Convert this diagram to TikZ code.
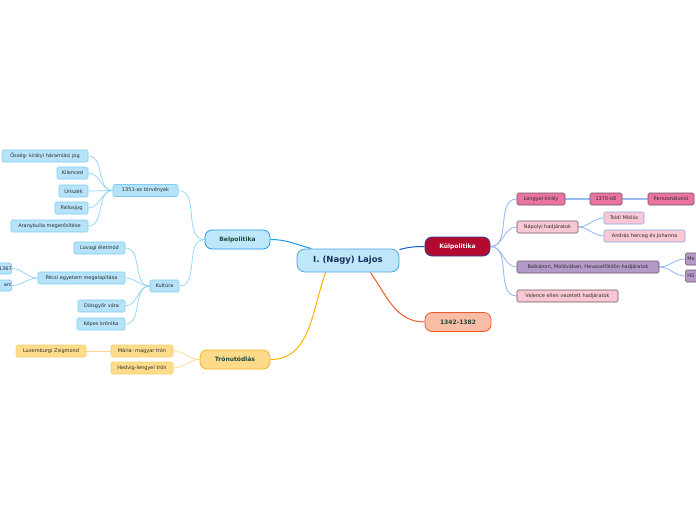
\documentclass[tikz,border=0pt]{standalone}
\usepackage{fontspec}
\setmainfont{DejaVu Sans}
\usetikzlibrary{backgrounds}
\definecolor{cfill}{HTML}{BEE7FA}
\definecolor{cdraw}{HTML}{4DA6DE}
\definecolor{ctext}{HTML}{1B2F5E}
\definecolor{gtext}{HTML}{1E4A3A}
\definecolor{lbfill}{HTML}{B6E3F9}
\definecolor{lbdraw}{HTML}{7ECDF3}
\definecolor{lbline}{HTML}{8FD4F5}
\definecolor{belline}{HTML}{1E98E5}
\definecolor{kulline}{HTML}{1560D0}
\definecolor{kulfill}{HTML}{B50A2F}
\definecolor{kuldraw}{HTML}{2B3D9A}
\definecolor{yrfill}{HTML}{F9BCA7}
\definecolor{yrdraw}{HTML}{F05A28}
\definecolor{trfill}{HTML}{FDDB8A}
\definecolor{trdraw}{HTML}{F5B51E}
\definecolor{trline}{HTML}{F8B400}
\definecolor{tlline}{HTML}{FDD98F}
\definecolor{tlfill}{HTML}{FDDC8C}
\definecolor{tldraw}{HTML}{FCCF74}
\definecolor{kline}{HTML}{9ABCF2}
\definecolor{pkfill}{HTML}{EA73A0}
\definecolor{lpfill}{HTML}{F9C8D3}
\definecolor{pufill}{HTML}{B49AC9}
\definecolor{dkdraw}{HTML}{6E5466}
\definecolor{bldraw}{HTML}{8AA8EA}
\definecolor{leaftext}{HTML}{2E2E2E}
\tikzset{
  mainbox/.style={rectangle, rounded corners=7pt, line width=0.8pt, minimum height=19pt, inner sep=0pt, font=\fontsize{6}{7}\selectfont\bfseries, text=gtext},
  leaf/.style={rectangle, rounded corners=1.5pt, line width=0.6pt, minimum height=12pt, inner sep=0pt, font=\fontsize{5}{6}\selectfont, text=leaftext},
  bleaf/.style={leaf, fill=lbfill, draw=lbdraw},
  tleaf/.style={leaf, fill=tlfill, draw=tldraw},
  link/.style={line width=0.7pt},
}
\begin{document}
\begin{tikzpicture}[x=1pt,y=-1pt]
\useasboundingbox (0,0) rectangle (696,520);
\clip (0,0) rectangle (696,520);

% main nodes
\node[rectangle, rounded corners=8pt, line width=0.8pt, draw=cdraw, fill=cfill, minimum width=102pt, minimum height=23pt, inner sep=0pt, font=\fontsize{8.5}{10}\selectfont\bfseries, text=ctext] (c) at (348,260.5) {I. (Nagy) Lajos};
\node[mainbox, draw=belline, fill=cfill, minimum width=65pt] (bel) at (237.5,239.5) {Belpolitika};
\node[mainbox, draw=kuldraw, fill=kulfill, text=white, minimum width=65pt] (kul) at (457.5,246.5) {Külpolitika};
\node[mainbox, draw=yrdraw, fill=yrfill, minimum width=66pt] (yr) at (458,322) {1342-1382};
\node[mainbox, draw=trdraw, fill=trfill, minimum width=70pt] (tr) at (235,359.5) {Trónutódlás};

% Belpolitika
\node[bleaf, minimum width=65pt] (tv) at (145.5,190.5) {1351-es törvények};
\node[bleaf, minimum width=86pt] (os) at (45,156) {Ősség- királyi háramlási jog};
\node[bleaf, minimum width=31pt] (ki) at (72.5,173) {Kilenced};
\node[bleaf, minimum width=29pt] (ur) at (73.5,191) {Úriszék};
\node[bleaf, minimum width=33pt] (pa) at (71.5,208) {Pallosjog};
\node[bleaf, minimum width=77pt] (ar) at (49.5,226) {Aranybulla megerősítése};
\node[bleaf, minimum width=29pt] (ku) at (164.5,286) {Kultúra};
\node[bleaf, minimum width=51pt] (lo) at (99.5,248) {Lovagi életmód};
\node[bleaf, minimum width=87pt] (pe) at (81.5,278) {Pécsi egyetem megalapítása};
\node[bleaf, minimum width=47pt] (di) at (101.5,306) {Diósgyőr vára};
\node[bleaf, minimum width=48pt] (ke) at (101,324) {Képes krónika};
\node[bleaf, anchor=east, text width=30pt, align=right, minimum height=11pt] (ev) at (12,268.5) {1367\hspace{0.5pt}};
\node[bleaf, anchor=east, text width=30pt, align=right, minimum height=11pt] (arc) at (12,285.5) {arc\hspace{1pt}};

% Tronutodlas
\node[tleaf, minimum width=62pt] (ma) at (142,351) {Mária- magyar trón};
\node[tleaf, minimum width=62pt] (he) at (142,368) {Hedvig-lengyel trón};
\node[tleaf, minimum width=70pt] (lu) at (51,351) {Luxemburgi Zsigmond};

% Kulpolitika
\node[leaf, fill=pkfill, draw=dkdraw, minimum width=48pt] (le) at (541,199) {Lengyel király};
\node[leaf, fill=pkfill, draw=dkdraw, minimum width=32pt] (ev2) at (606,199) {1370-től};
\node[leaf, fill=pkfill, draw=dkdraw, minimum width=46pt] (pu) at (671,199) {Perszonálunió};
\node[leaf, fill=lpfill, draw=dkdraw, minimum width=61pt] (na) at (547.5,227) {Nápolyi hadjáratok};
\node[leaf, fill=lpfill, draw=bldraw, minimum width=40pt] (to) at (624,218) {Toldi Miklós};
\node[leaf, fill=lpfill, draw=bldraw, minimum width=81pt] (an) at (644.5,236) {András herceg és Johanna};
\node[leaf, fill=pufill, draw=dkdraw, minimum width=142pt] (ba) at (588,267) {Balkánon, Moldvában, Havasalföldön hadjáratok};
\node[leaf, fill=pufill, draw=dkdraw, anchor=west, text width=30pt, align=left, minimum height=12pt] (me) at (685,259) {\hspace{2pt}Me};
\node[leaf, fill=pufill, draw=dkdraw, anchor=west, text width=30pt, align=left, minimum height=12pt] (hu) at (685,276) {\hspace{2pt}Hű};
\node[leaf, fill=lpfill, draw=dkdraw, minimum width=101pt] (ve) at (567.5,296) {Velence ellen vezetett hadjáratok};

\begin{scope}[on background layer]
\fill[white] (0,0) rectangle (696,520);
\draw[belline, line width=1pt] (c.162) to[out=165,in=0] (bel.east);
\draw[kulline, line width=1pt] (c.12) to[out=15,in=180] (kul.west);
\draw[yrdraw, line width=1pt] (c.-28) to[out=-55,in=180] (yr.west);
\draw[trline, line width=1pt] (c.-152) to[out=-110,in=0] (tr.east);

\draw[link, lbline] (bel.west) to[out=180,in=0] (tv.east);
\draw[link, lbline] (bel.west) to[out=180,in=0] (ku.east);
\foreach \n in {os,ki,ur,pa,ar} \draw[link, lbline] (tv.west) to[out=180,in=0] (\n.east);
\foreach \n in {lo,pe,di,ke} \draw[link, lbline] (ku.west) to[out=180,in=0] (\n.east);
\foreach \n in {ev,arc} \draw[link, lbline] (pe.west) to[out=180,in=0] (\n.east);

\draw[link, tlline] (tr.west) to[out=180,in=0] (ma.east);
\draw[link, tlline] (tr.west) to[out=180,in=0] (he.east);
\draw[link, tlline] (ma.west) -- (lu.east);

\foreach \n in {le,na,ba,ve} \draw[link, kline, line width=0.9pt] (kul.east) to[out=0,in=180] (\n.west);
\draw[link, kline, line width=1.2pt] (le.east) -- (ev2.west);
\draw[link, kline, line width=1.2pt] (ev2.east) -- (pu.west);
\draw[link, kline, line width=0.9pt] (na.east) to[out=0,in=180] (to.west);
\draw[link, kline, line width=0.9pt] (na.east) to[out=0,in=180] (an.west);
\draw[link, kline, line width=0.9pt] (ba.east) to[out=0,in=180] (me.west);
\draw[link, kline, line width=0.9pt] (ba.east) to[out=0,in=180] (hu.west);
\end{scope}
\end{tikzpicture}
\end{document}
